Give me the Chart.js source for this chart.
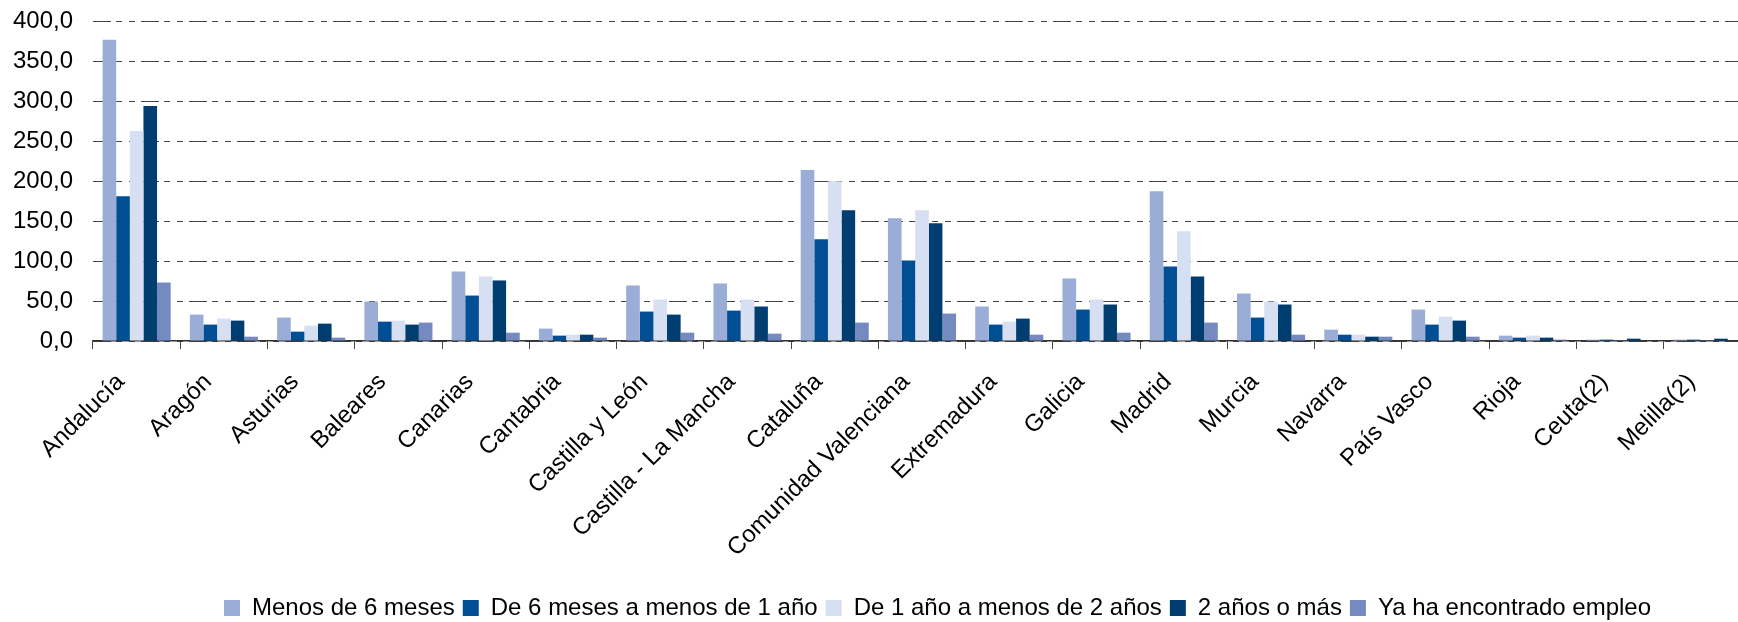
<!DOCTYPE html>
<html>
<head>
<meta charset="utf-8">
<script src="https://cdn.jsdelivr.net/npm/chart.js@4"></script>
<style>
  html, body { margin: 0; padding: 0; background: #fff; overflow: hidden; }
  #wrap { width: 1751px; height: 622px; }
</style>
</head>
<body>
<div id="wrap"><canvas id="chart"></canvas></div>
<script>
const regions = [
    "Andalucía", "Aragón", "Asturias", "Baleares", "Canarias", "Cantabria",
    "Castilla y León", "Castilla - La Mancha", "Cataluña", "Comunidad Valenciana",
    "Extremadura", "Galicia", "Madrid", "Murcia", "Navarra", "País Vasco",
    "Rioja", "Ceuta(2)", "Melilla(2)"
];

const menos6 =     [376.6, 33.0, 29.3, 49.3, 86.9, 15.5, 69.4, 71.9, 213.6, 153.4, 43.1, 78.2, 187.3, 59.4, 14.2, 39.3, 6.7, 1.7, 1.7];
const de6a1 =      [181.0, 20.5, 11.7, 24.2, 56.8, 6.7, 36.8, 38.0, 127.1, 100.7, 20.5, 39.3, 93.2, 29.3, 7.9, 20.5, 4.2, 1.7, 1.7];
const de1a2 =      [262.5, 28.0, 19.2, 25.5, 80.7, 7.9, 51.8, 51.8, 199.8, 163.4, 24.2, 51.8, 137.1, 49.3, 7.9, 30.5, 6.7, 0.8, 0.8];
const dosOMas =    [293.8, 25.5, 21.7, 20.5, 75.7, 7.9, 33.0, 43.1, 163.4, 147.1, 28.0, 45.6, 80.7, 45.6, 5.4, 25.5, 4.2, 2.9, 2.9];
const yaEmpleo =   [73.1, 5.4, 4.2, 23.0, 10.4, 4.2, 10.4, 9.2, 23.0, 34.3, 7.9, 10.4, 23.0, 7.9, 5.4, 5.4, 1.7, 0, 0];

const seriesNames = [
    "Menos de 6 meses",
    "De 6 meses a menos de 1 año",
    "De 1 año a menos de 2 años",
    "2 años o más",
    "Ya ha encontrado empleo"
];
const seriesColors = ["#9aadd6", "#004f94", "#d6e0f2", "#003d70", "#768ac2"];
const seriesData = [menos6, de6a1, de1a2, dosOMas, yaEmpleo];

const FONT = "'Liberation Sans', Arial, sans-serif";

// nudge the legend right/down like the original
const legendShift = {
    id: 'legendShift',
    afterLayout(chart) {
        const lg = chart.legend;
        lg.left += 62;
        lg.right += 62;
        lg.top += 8;
        lg.bottom += 8;
    }
};

new Chart(document.getElementById('chart'), {
    type: 'bar',
    data: {
        labels: regions,
        datasets: seriesData.map((d, i) => ({
            label: seriesNames[i],
            data: d,
            backgroundColor: seriesColors[i],
            borderWidth: 0,
            categoryPercentage: 0.78,
            barPercentage: 1.0
        }))
    },
    options: {
        responsive: true,
        maintainAspectRatio: false,
        animation: false,
        layout: { padding: { top: 21, right: 0, left: 0, bottom: 0 } },
        plugins: {
            tooltip: { enabled: false },
            legend: {
                position: 'bottom',
                labels: {
                    color: '#000',
                    font: { family: FONT, size: 24 },
                    boxWidth: 16,
                    boxHeight: 16,
                    padding: 8
                }
            }
        },
        scales: {
            x: {
                offset: true,
                grid: {
                    display: true,
                    drawOnChartArea: false,
                    drawTicks: true,
                    tickLength: 8,
                    tickColor: '#444',
                    tickWidth: 1
                },
                border: { display: true, color: '#333', width: 1.5 },
                ticks: {
                    color: '#000',
                    font: { family: FONT, size: 24 },
                    maxRotation: 45,
                    minRotation: 45,
                    autoSkip: false,
                    padding: 19,
                    labelOffset: -16
                },
                afterFit: s => { s.height = 239; }
            },
            y: {
                min: 0,
                max: 400,
                ticks: {
                    stepSize: 50,
                    color: '#000',
                    padding: 0,
                    font: { family: FONT, size: 24 },
                    callback: v => v.toFixed(1).replace('.', ',')
                },
                grid: {
                    color: '#444',
                    lineWidth: 1,
                    drawTicks: true,
                    tickLength: 20,
                    tickColor: 'rgba(0,0,0,0)'
                },
                border: { display: false, dash: [18, 5, 6, 7, 6, 6] },
                afterFit: s => { s.width = 93; }
            }
        }
    },
    plugins: [legendShift]
});
</script>
</body>
</html>
